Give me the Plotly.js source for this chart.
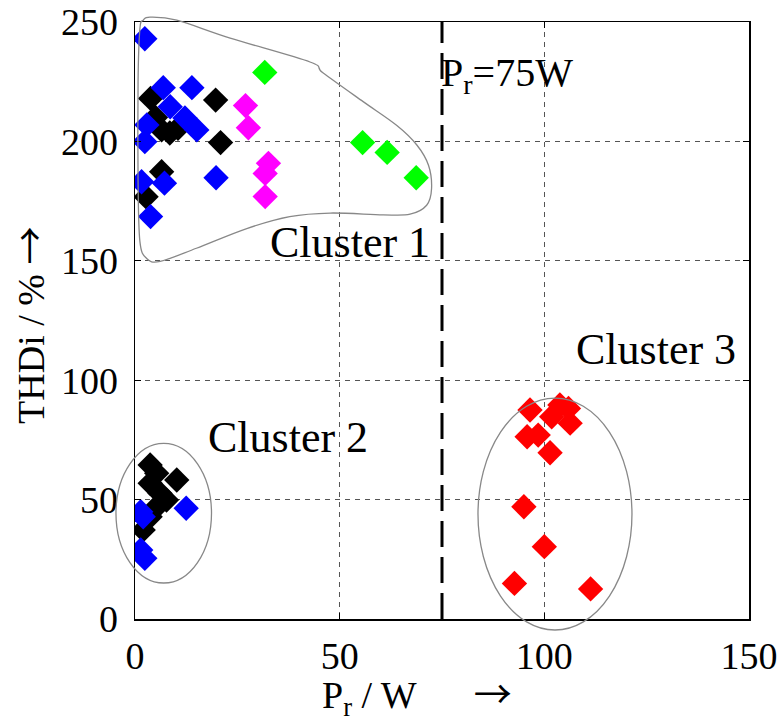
<!DOCTYPE html>
<html>
<head>
<meta charset="utf-8">
<script src="https://cdn.plot.ly/plotly-3.0.1.min.js"></script>
<style>html,body{margin:0;padding:0;background:#fff;}</style>
</head>
<body>
<div id="chart" style="width:781px;height:726px;"></div>
<script>
// Data (P_r in W, THDi in %)
const blackX = [3.8, 19.7, 5.0, 6.5, 8.5, 10.5, 20.9, 6.5, 2.7, 3.7, 5.3, 10.2, 3.7, 6.1, 7.7, 5.3, 3.7, 2.0];
const blackY = [218, 217.3, 210, 204.8, 203.5, 205.5, 199.5, 187.3, 176.8, 64.5, 61, 58.2, 56.8, 52.7, 49.8, 47, 42.8, 37.3];
const blueX = [2.4, 6.9, 13.9, 8.6, 2.9, 12.2, 15.1, 2.4, 19.8, 1.6, 7.2, 3.8, 1.4, 2.0, 12.5, 1.4, 2.4];
const blueY = [243, 222.5, 222.5, 214.5, 206.9, 209.8, 204.8, 199.9, 184.8, 183.1, 182.5, 168.5, 44.9, 42.8, 46.4, 28.9, 25.4];
const magentaX = [27, 27.7, 32.6, 31.8, 31.8];
const magentaY = [215, 205.7, 190.8, 186.6, 176.9];
const greenX = [31.7, 55.6, 61.6, 68.7];
const greenY = [228.9, 199.5, 195.4, 184.8];
const redX = [96.5, 103.8, 105.9, 101.8, 106.3, 95.8, 98.5, 101.4, 95, 100, 92.7, 111.3];
const redY = [87.5, 89.6, 88.2, 84.7, 82, 76.3, 77, 69.6, 47, 30.3, 14.9, 12.6];
const xTicks = [0, 50, 100, 150];
const yTicks = [0, 50, 100, 150, 200, 250];
const thresholdX = 75;

const FONT = "'Liberation Serif', 'Times New Roman', serif";
const ARROW = '<span style="font-family:\'Noto Sans CJK JP\'">→</span>';
const NB = '\u00a0';

function mk(x, y, color) {
  return {
    x: x, y: y, type: 'scatter', mode: 'markers', showlegend: false, hoverinfo: 'x+y',
    marker: {symbol: 'diamond', size: 19.5, color: color, line: {width: 0}}
  };
}

// Cluster 1 outline (paper coordinates) smoothed with Catmull-Rom
const c1 = [[0.0135,1.003],[0.0244,1.008],[0.068,1.003],[0.155,0.973],[0.285,0.933],[0.306,0.915],
  [0.371,0.867],[0.426,0.827],[0.459,0.794],[0.478,0.760],[0.483,0.721],[0.475,0.693],[0.448,0.678],
  [0.404,0.677],[0.318,0.680],[0.252,0.674],[0.182,0.654],[0.100,0.621],[0.041,0.599],[0.019,0.604],
  [0.008,0.632],[0.005,0.733],[0.005,0.900],[0.008,0.989]];
function smoothClosed(p) {
  const n = p.length;
  let d = 'M' + p[0][0] + ',' + p[0][1];
  for (let i = 0; i < n; i++) {
    const p0 = p[(i - 1 + n) % n], p1 = p[i], p2 = p[(i + 1) % n], p3 = p[(i + 2) % n];
    const c1x = p1[0] + (p2[0] - p0[0]) / 6, c1y = p1[1] + (p2[1] - p0[1]) / 6;
    const c2x = p2[0] - (p3[0] - p1[0]) / 6, c2y = p2[1] - (p3[1] - p1[1]) / 6;
    d += ' C' + c1x + ',' + c1y + ' ' + c2x + ',' + c2y + ' ' + p2[0] + ',' + p2[1];
  }
  return d + ' Z';
}

const traces = [mk(blackX, blackY, '#000000'), mk(blueX, blueY, '#0000ff'),
  mk(magentaX, magentaY, '#ff00ff'), mk(greenX, greenY, '#00ff00'), mk(redX, redY, '#ff0000')];

const axisCommon = {
  showgrid: true, gridcolor: '#555555', gridwidth: 1, griddash: '5px,5px',
  zeroline: false, showline: true, linecolor: '#000', linewidth: 1.5, mirror: 'ticks',
  ticks: 'inside', ticklen: 6, tickcolor: '#000', tickwidth: 1,
  tickfont: {family: FONT, size: 38, color: '#000'}
};

const layout = {
  width: 781, height: 726,
  margin: {l: 135, r: 32, t: 22, b: 107},
  paper_bgcolor: '#fff', plot_bgcolor: '#fff',
  font: {family: FONT, color: '#000'},
  xaxis: Object.assign({}, axisCommon, {
    range: [0, 150], tickvals: xTicks, ticktext: xTicks.map(String), ticklabelstandoff: 3
  }),
  yaxis: Object.assign({}, axisCommon, {
    range: [0, 250], tickvals: yTicks, ticktext: yTicks.map(String), ticklabelstandoff: 8,
    title: {text: 'THDi / % ' + ARROW + NB + '\u200b', font: {family: FONT, size: 38}, standoff: 14}
  }),
  shapes: [
    {type: 'line', xref: 'x', yref: 'y', x0: thresholdX, x1: thresholdX, y0: 0, y1: 250,
      line: {color: '#000', width: 3, dash: '26px,10px'}},
    {type: 'path', xref: 'paper', yref: 'paper', path: smoothClosed(c1),
      line: {color: '#888888', width: 1.3}},
    {type: 'circle', xref: 'paper', yref: 'paper', x0: -0.031, x1: 0.1246, y0: 0.0603, y1: 0.2943,
      line: {color: '#888888', width: 1.3}},
    {type: 'circle', xref: 'paper', yref: 'paper', x0: 0.5586, x1: 0.8094, y0: -0.0184, y1: 0.370,
      line: {color: '#888888', width: 1.3}}
  ],
  annotations: [
    // x-axis title
    {x: 0.46, y: -0.124, xref: 'paper', yref: 'paper', xanchor: 'center', yanchor: 'middle',
      text: 'P<sub>r</sub> / W' + NB.repeat(6) + ARROW, showarrow: false,
      font: {family: FONT, size: 38, color: '#000'}},
    {x: 52.5, y: 157.5, xref: 'x', yref: 'y', text: 'Cluster 1', showarrow: false,
      font: {family: FONT, size: 44, color: '#000'}},
    {x: 37.3, y: 76.2, xref: 'x', yref: 'y', text: 'Cluster 2', showarrow: false,
      font: {family: FONT, size: 44, color: '#000'}},
    {x: 127.2, y: 113, xref: 'x', yref: 'y', text: 'Cluster 3', showarrow: false,
      font: {family: FONT, size: 44, color: '#000'}},
    {x: 91, y: 227.8, xref: 'x', yref: 'y', text: 'P<sub>r</sub>=75W', showarrow: false,
      font: {family: FONT, size: 40, color: '#000'}}
  ]
};

Plotly.newPlot('chart', traces, layout, {displayModeBar: false, staticPlot: true});
</script>
</body>
</html>
